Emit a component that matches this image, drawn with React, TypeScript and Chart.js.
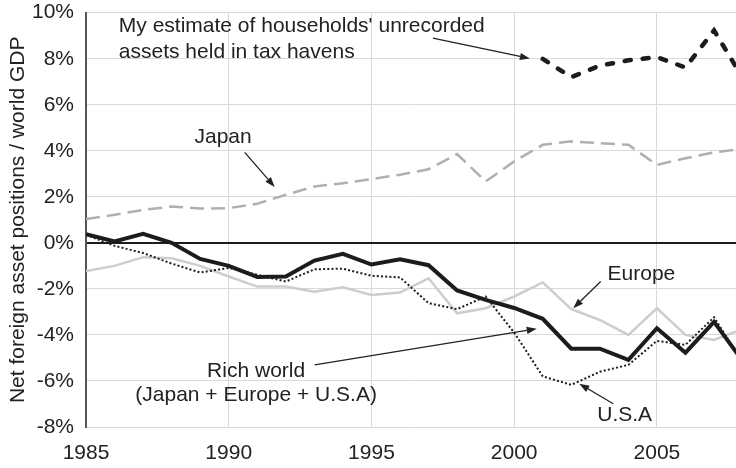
import React, { useEffect, useRef } from 'react';
import { Chart, registerables } from 'chart.js';

Chart.register(...registerables);

// ---------- data ----------
const years = [1985, 1986, 1987, 1988, 1989, 1990, 1991, 1992, 1993, 1994, 1995, 1996, 1997, 1998, 1999, 2000, 2001, 2002, 2003, 2004, 2005, 2006, 2007, 2008];
const richWorld = [0.38, 0.06, 0.39, 0.0, -0.7, -1.0, -1.48, -1.46, -0.77, -0.48, -0.94, -0.71, -0.97, -2.07, -2.48, -2.83, -3.3, -4.6, -4.6, -5.08, -3.71, -4.77, -3.43, -5.13];
const usa = [0.35, -0.13, -0.44, -0.9, -1.29, -1.09, -1.39, -1.68, -1.15, -1.12, -1.43, -1.5, -2.62, -2.88, -2.33, -3.9, -5.8, -6.17, -5.6, -5.3, -4.26, -4.43, -3.23, -5.2];
const europe = [-1.22, -1.0, -0.62, -0.67, -1.0, -1.46, -1.9, -1.9, -2.12, -1.93, -2.26, -2.16, -1.54, -3.06, -2.84, -2.33, -1.72, -2.88, -3.35, -4.0, -2.84, -4.0, -4.22, -3.74];
const japan = [1.04, 1.22, 1.43, 1.58, 1.49, 1.51, 1.7, 2.09, 2.45, 2.59, 2.77, 2.96, 3.2, 3.86, 2.67, 3.54, 4.26, 4.41, 4.33, 4.26, 3.39, 3.68, 3.93, 4.08];
const taxYears = [2001, 2002, 2003, 2004, 2005, 2006, 2007, 2008];
const taxHavens = [7.99, 7.2, 7.7, 7.93, 8.07, 7.62, 9.23, 7.17];

const xTicks = [1985, 1990, 1995, 2000, 2005];
const yTitle = 'Net foreign asset positions / world GDP';

// annotations in data coordinates (year, %)
const labels = [
  { text: "My estimate of households' unrecorded", x: 1986.15, y: 9.18, align: 'left' },
  { text: 'assets held in tax havens', x: 1986.15, y: 8.05, align: 'left' },
  { text: 'Japan', x: 1988.8, y: 4.33, align: 'left' },
  { text: 'Europe', x: 2003.27, y: -1.61, align: 'left' },
  { text: 'Rich world', x: 1990.96, y: -5.81, align: 'center' },
  { text: '(Japan + Europe + U.S.A)', x: 1990.96, y: -6.89, align: 'center' },
  { text: 'U.S.A', x: 2002.91, y: -7.76, align: 'left' },
];
const arrows = [
  { x1: 1997.15, y1: 8.9, x2: 2000.55, y2: 8.01 },
  { x1: 1990.56, y1: 3.93, x2: 1991.61, y2: 2.43 },
  { x1: 2003.03, y1: -1.68, x2: 2002.07, y2: -2.84 },
  { x1: 1993.01, y1: -5.3, x2: 2000.79, y2: -3.73 },
  { x1: 2003.47, y1: -6.99, x2: 2002.28, y2: -6.12 },
];

const FONT = '"Liberation Sans", Arial, Helvetica, sans-serif';
const TEXT = '#222222';

const pts = (xs: number[], ys: number[]) => xs.map((x, i) => ({ x, y: ys[i] }));

const annotationPlugin = {
  id: 'annotations',
  afterDatasetsDraw(chart: any) {
    const { ctx, scales } = chart;
    const xs = scales.x;
    const ys = scales.y;
    ctx.save();
    ctx.fillStyle = TEXT;
    ctx.font = `21px ${FONT}`;
    ctx.textBaseline = 'alphabetic';
    labels.forEach((l) => {
      ctx.textAlign = l.align;
      ctx.fillText(l.text, xs.getPixelForValue(l.x), ys.getPixelForValue(l.y));
    });
    ctx.strokeStyle = TEXT;
    ctx.lineWidth = 1.3;
    arrows.forEach((a) => {
      const px1 = xs.getPixelForValue(a.x1);
      const py1 = ys.getPixelForValue(a.y1);
      const px2 = xs.getPixelForValue(a.x2);
      const py2 = ys.getPixelForValue(a.y2);
      const ang = Math.atan2(py2 - py1, px2 - px1);
      const len = 10;
      const hw = 3.6;
      const bx = px2 - len * Math.cos(ang);
      const by = py2 - len * Math.sin(ang);
      ctx.beginPath();
      ctx.moveTo(px1, py1);
      ctx.lineTo(bx, by);
      ctx.stroke();
      ctx.beginPath();
      ctx.moveTo(px2, py2);
      ctx.lineTo(bx + hw * Math.sin(ang), by - hw * Math.cos(ang));
      ctx.lineTo(bx - hw * Math.sin(ang), by + hw * Math.cos(ang));
      ctx.closePath();
      ctx.fill();
    });
    ctx.restore();
  },
};

export default function App() {
  const ref = useRef<HTMLCanvasElement | null>(null);
  useEffect(() => {
    document.body.style.margin = '0';
    const canvas = ref.current;
    if (!canvas) return;
    const chart = new Chart(canvas, {
      type: 'line',
      data: {
        datasets: [
          {
            label: 'Tax havens',
            data: pts(taxYears, taxHavens),
            borderColor: '#1c1c1c',
            borderWidth: 4.5,
            borderDash: [6, 12],
            borderCapStyle: 'round',
            pointRadius: 0,
            tension: 0,
          },
          {
            label: 'Rich world',
            data: pts(years, richWorld),
            borderColor: '#1c1c1c',
            borderWidth: 4,
            pointRadius: 0,
            tension: 0,
          },
          {
            label: 'U.S.A',
            data: pts(years, usa),
            borderColor: '#1c1c1c',
            borderWidth: 2,
            borderDash: [2, 2.2],
            pointRadius: 0,
            tension: 0,
          },
          {
            label: 'Japan',
            data: pts(years, japan),
            borderColor: '#b0b0b0',
            borderWidth: 2.5,
            borderDash: [14, 7],
            pointRadius: 0,
            tension: 0,
          },
          {
            label: 'Europe',
            data: pts(years, europe),
            borderColor: '#cdcdcd',
            borderWidth: 2.5,
            pointRadius: 0,
            tension: 0,
          },
        ],
      },
      options: {
        responsive: false,
        animation: false,
        devicePixelRatio: 1,
        layout: { padding: { top: 0, right: 0, left: 0, bottom: 0 } },
        plugins: {
          legend: { display: false },
          tooltip: { enabled: false },
        },
        scales: {
          x: {
            type: 'linear',
            min: 1985,
            max: 2007.77,
            afterBuildTicks: (s: any) => {
              s.ticks = xTicks.map((v) => ({ value: v }));
            },
            afterFit: (s: any) => {
              s.height = 41;
            },
            ticks: {
              font: { family: FONT, size: 21 },
              color: TEXT,
              padding: 14,
              maxRotation: 0,
              autoSkip: false,
              callback: (v: any) => String(v),
            },
            grid: { color: '#d9d9d9', lineWidth: 1, drawTicks: false },
            border: { display: false },
          },
          y: {
            min: -8,
            max: 10,
            afterFit: (s: any) => {
              s.width = 86;
              s.paddingTop = 12.7;
              s.paddingBottom = 0;
            },
            ticks: {
              stepSize: 2,
              font: { family: FONT, size: 21 },
              color: TEXT,
              padding: 12,
              callback: (v: any) => `${v}%`,
            },
            grid: {
              color: (c: any) => (c.tick && c.tick.value === 0 ? '#1c1c1c' : '#d9d9d9'),
              lineWidth: (c: any) => (c.tick && c.tick.value === 0 ? 2 : 1),
              drawTicks: false,
            },
            border: { color: '#555555', width: 2 },
            title: {
              display: true,
              text: yTitle,
              font: { family: FONT, size: 21 },
              color: TEXT,
              padding: { top: 6, bottom: 0 },
            },
          },
        },
      },
      plugins: [annotationPlugin],
    } as any);
    return () => chart.destroy();
  }, []);
  return (
    <div style={{ width: 736, height: 468 }}>
      <canvas ref={ref} width={736} height={468} style={{ display: 'block', width: 736, height: 468 }} />
    </div>
  );
}
